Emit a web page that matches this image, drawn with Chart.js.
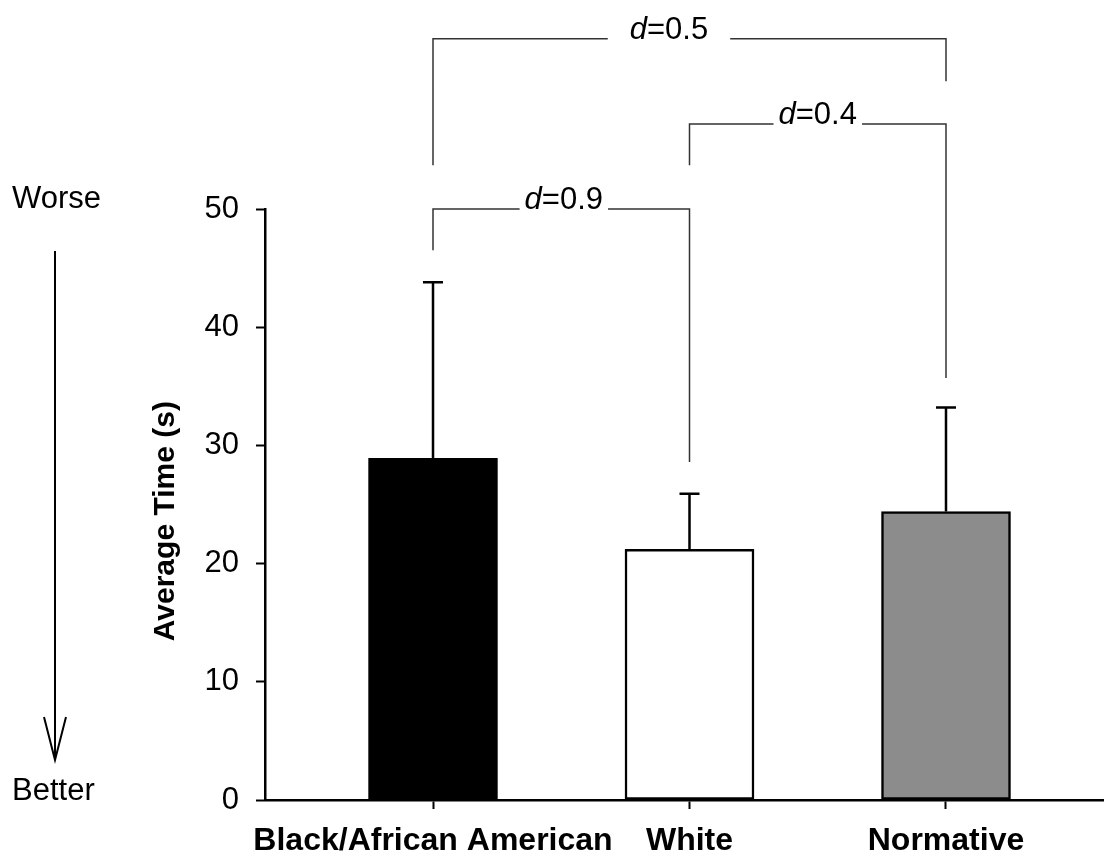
<!DOCTYPE html>
<html lang="en">
<head>
    <meta charset="UTF-8">
    <title>Average Time</title>
    <script src="https://cdn.jsdelivr.net/npm/chart.js"></script>
    <style>
        body { margin: 0; background: #fff; }
    </style>
</head>
<body>

    <canvas id="graficoTempo" width="1104" height="858"></canvas>

    <script>
        // data
        const grupos = ['Black/African American', 'White', 'Normative'];
        const medias = [28.9, 21.2, 24.4];
        const desvios = [14.9, 4.7, 8.8];
        const cores = ['#000000', '#ffffff', '#8c8c8c'];
        const yTicks = [0, 10, 20, 30, 40, 50];

        // effect-size brackets: from group, to group, left leg bottom, bar height, right leg bottom
        const bracketDe = [0, 1, 0];
        const bracketPara = [1, 2, 2];
        const bracketBaseEsq = [46.5, 53.7, 53.7];
        const bracketTopo = [50.0, 57.2, 64.4];
        const bracketBaseDir = [28.6, 35.7, 60.8];
        const bracketD = ['0.9', '0.4', '0.5'];
        const bracketTextoEm = [0.51, 1.5, 0.92];

        const fonte = '"Liberation Sans", Arial, sans-serif';

        const errorBars = {
            id: 'errorBars',
            afterDatasetsDraw(chart) {
                const ctx = chart.ctx;
                const x = chart.scales.x, y = chart.scales.y;
                ctx.save();
                ctx.strokeStyle = '#000';
                ctx.lineWidth = 2.5;
                medias.forEach((m, i) => {
                    const px = x.getPixelForValue(i);
                    const y0 = y.getPixelForValue(m);
                    const y1 = y.getPixelForValue(m + desvios[i]);
                    ctx.beginPath();
                    ctx.moveTo(px, y0);
                    ctx.lineTo(px, y1);
                    ctx.moveTo(px - 10, y1);
                    ctx.lineTo(px + 10, y1);
                    ctx.stroke();
                });
                ctx.restore();
            }
        };

        const brackets = {
            id: 'brackets',
            afterDraw(chart) {
                const ctx = chart.ctx;
                const x = chart.scales.x, y = chart.scales.y;
                ctx.save();
                ctx.strokeStyle = '#333';
                ctx.lineWidth = 1.5;
                ctx.textBaseline = 'alphabetic';
                bracketD.forEach((d, i) => {
                    const xa = x.getPixelForValue(bracketDe[i]);
                    const xb = x.getPixelForValue(bracketPara[i]);
                    const yt = y.getPixelForValue(bracketTopo[i]);
                    const xc = x.getPixelForValue(bracketTextoEm[i]);

                    ctx.font = 'italic 31px ' + fonte;
                    const w1 = ctx.measureText('d').width;
                    ctx.font = '31px ' + fonte;
                    const w2 = ctx.measureText('=' + d).width;
                    const w = w1 + w2;
                    // the top bracket has a wider opening around its label
                    const gap = (xb - xa) > 300 ? 22 : 5;

                    ctx.beginPath();
                    ctx.moveTo(xa, y.getPixelForValue(bracketBaseEsq[i]));
                    ctx.lineTo(xa, yt);
                    ctx.lineTo(xc - w / 2 - gap, yt);
                    ctx.moveTo(xc + w / 2 + gap, yt);
                    ctx.lineTo(xb, yt);
                    ctx.lineTo(xb, y.getPixelForValue(bracketBaseDir[i]));
                    ctx.stroke();

                    ctx.fillStyle = '#000';
                    ctx.font = 'italic 31px ' + fonte;
                    ctx.fillText('d', xc - w / 2, yt);
                    ctx.font = '31px ' + fonte;
                    ctx.fillText('=' + d, xc - w / 2 + w1, yt);
                });

                // Worse / Better arrow on the left
                const topo = y.getPixelForValue(50);
                const base = y.getPixelForValue(0);
                ctx.fillStyle = '#000';
                ctx.font = '31px ' + fonte;
                ctx.textAlign = 'left';
                ctx.fillText('Worse', 12, topo - 1);
                ctx.fillText('Better', 12, base);
                ctx.strokeStyle = '#000';
                ctx.lineWidth = 2;
                ctx.beginPath();
                ctx.moveTo(55, topo + 42);
                ctx.lineTo(55, base - 40);
                ctx.moveTo(44, base - 83);
                ctx.lineTo(55, base - 40);
                ctx.lineTo(66, base - 83);
                ctx.stroke();
                ctx.restore();
            }
        };

        const ctx = document.getElementById('graficoTempo').getContext('2d');
        const grafico = new Chart(ctx, {
            type: 'bar',
            data: {
                datasets: [{
                    label: 'Average Time',
                    data: medias.map((v, i) => ({ x: i, y: v })),
                    backgroundColor: cores,
                    borderColor: '#000',
                    borderWidth: 2.5,
                    borderSkipped: false,
                    barThickness: 129
                }]
            },
            options: {
                responsive: false,
                animation: false,
                devicePixelRatio: 1,
                layout: {
                    padding: { top: 209, right: 0, bottom: 0, left: 0 }
                },
                plugins: {
                    legend: { display: false },
                    tooltip: { enabled: false }
                },
                scales: {
                    x: {
                        type: 'linear',
                        offset: false,
                        min: -0.655,
                        max: 2.616,
                        afterBuildTicks: axis => {
                            axis.ticks = grupos.map((g, i) => ({ value: i }));
                        },
                        afterFit: scale => { scale.height = 58; },
                        grid: {
                            offset: false,
                            drawOnChartArea: false,
                            drawTicks: true,
                            tickLength: 9,
                            tickColor: '#000',
                            tickWidth: 2
                        },
                        border: { color: '#000', width: 2.5 },
                        ticks: {
                            autoSkip: false,
                            maxRotation: 0,
                            padding: 13,
                            color: '#000',
                            font: { family: fonte, size: 32, weight: 'bold' },
                            callback: v => grupos[v]
                        }
                    },
                    y: {
                        min: 0,
                        max: 50,
                        afterBuildTicks: axis => {
                            axis.ticks = yTicks.map(v => ({ value: v }));
                        },
                        afterFit: scale => { scale.width = 265; },
                        grid: {
                            drawOnChartArea: false,
                            drawTicks: true,
                            tickLength: 9,
                            tickColor: '#000',
                            tickWidth: 2
                        },
                        border: { color: '#000', width: 2.5 },
                        ticks: {
                            padding: 17,
                            color: '#000',
                            font: { family: fonte, size: 31 }
                        },
                        title: {
                            display: true,
                            text: 'Average Time (s)    ',
                            color: '#000',
                            padding: { top: 148, bottom: 0 },
                            font: { family: fonte, size: 30, weight: 'bold' }
                        }
                    }
                }
            },
            plugins: [errorBars, brackets]
        });
    </script>

</body>
</html>
